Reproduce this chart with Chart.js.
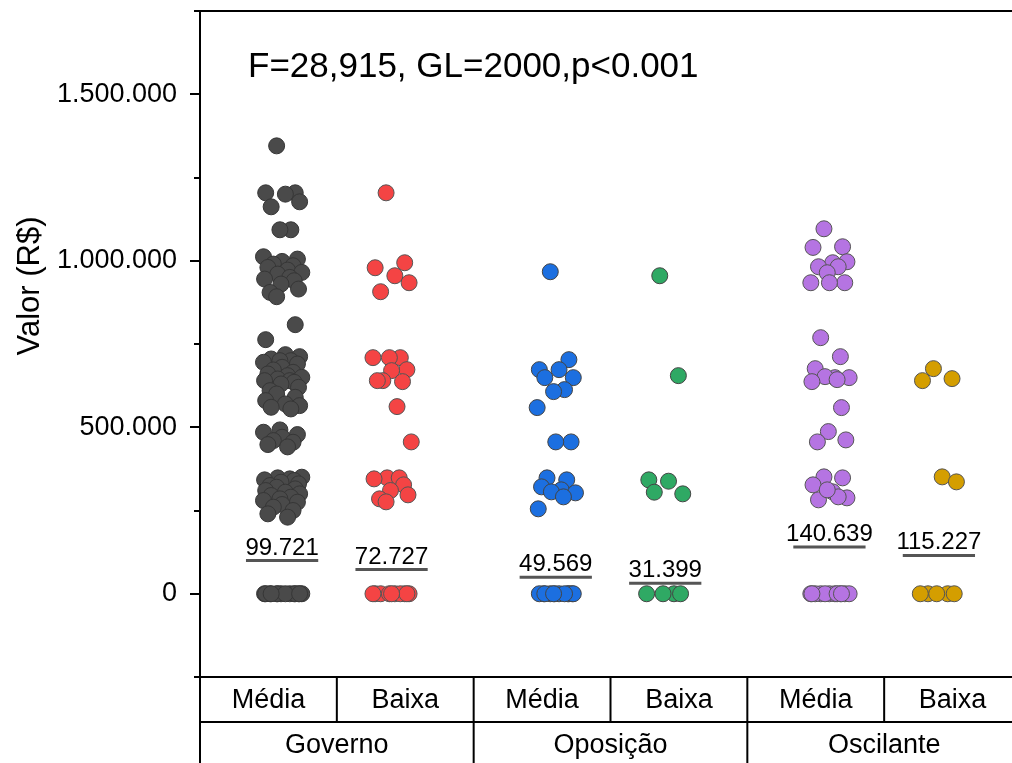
<!DOCTYPE html>
<html>
<head>
<meta charset="utf-8">
<script src="https://cdn.jsdelivr.net/npm/chart.js@4.4.1/dist/chart.umd.min.js"></script>
<style>
  html, body { margin: 0; padding: 0; background: #fff; overflow: hidden; }
  #caixa { width: 1030px; height: 763px; position: relative; }
</style>
</head>
<body>
<div id="caixa"><canvas id="grafico"></canvas></div>
<script>
// categorias do grafico
const grupos = ['Governo', 'Oposição', 'Oscilante'];
const niveis = ['Média', 'Baixa', 'Média', 'Baixa', 'Média', 'Baixa'];
const posicoes = [1, 2, 3.5, 4.5, 6, 7];
const medias = [99721, 72727, 49569, 31399, 140639, 115227];
const textoTeste = 'F=28,915, GL=2000,p<0.001';
const tituloY = 'Valor (R$)';

// valores (R$)
const govMedia = [1345000, 1204000, 1204000, 1200000, 1177000, 1162000, 1093000, 1093000,
  1012000, 1005000, 998000, 990000, 985000, 980000, 972000, 965000, 960000, 950000, 945000,
  940000, 930000, 915000, 905000, 892000, 808000, 763000,
  718000, 712000, 705000, 700000, 700000, 695000, 690000, 680000, 672000, 665000, 660000,
  655000, 650000, 645000, 640000, 640000, 635000, 630000, 620000, 610000, 600000, 590000,
  580000, 570000, 565000, 560000, 555000,
  492000, 485000, 478000, 470000, 460000, 455000, 448000, 441000,
  350000, 348000, 345000, 342000, 340000, 335000, 330000, 325000, 320000, 315000, 310000,
  305000, 300000, 295000, 290000, 285000, 280000, 275000, 268000, 260000, 250000, 240000, 230000,
  0, 0, 0, 0, 0, 0, 0, 0, 0, 0, 0, 0, 0, 0];
const govBaixa = [1204000, 994000, 979000, 955000, 934000, 907000,
  709000, 709000, 709000, 673000, 670000, 640000, 637000, 640000,
  562000, 456000,
  348000, 348000, 345000, 327000, 310000, 297000, 285000, 276000,
  0, 0, 0, 0, 0, 0, 0, 0, 0, 0];
const opoMedia = [967000, 703000, 673000, 673000, 649000, 649000, 613000, 607000, 559000,
  456000, 456000,
  348000, 342000, 321000, 312000, 303000, 306000, 291000, 255000,
  0, 0, 0, 0, 0, 0, 0, 0, 0, 0, 0, 0];
const opoBaixa = [955000, 655000, 342000, 338000, 300000, 305000, 0, 0, 0, 0];
const oscMedia = [1096000, 1042000, 1040000, 994000, 997000, 982000, 982000, 964000,
  934000, 934000, 934000, 769000, 712000, 676000,
  649000, 649000, 652000, 643000, 637000, 559000, 487000, 462000, 456000,
  351000, 348000, 327000, 306000, 288000, 282000, 291000, 312000,
  0, 0, 0, 0, 0, 0, 0, 0, 0, 0, 0, 0];
const oscBaixa = [676000, 646000, 640000, 351000, 336000, 0, 0, 0, 0, 0];

// deslocamento horizontal dos pontos (unidades de categoria)
const jitter = [-0.05, 0.12, -0.15, 0.03, 0.16, -0.10, 0.08, -0.02, -0.17, 0.14, 0.00, -0.08,
  0.10, -0.13, 0.05, 0.18, -0.04, 0.07, -0.16, 0.11, -0.01, 0.15, -0.11];

const series = [govMedia, govBaixa, opoMedia, opoBaixa, oscMedia, oscBaixa];
const cores = ['#4a4a4a', '#f44444', '#1c6fe0', '#2fa964', '#b574e2', '#d49e00'];
const bordas = ['#363636', '#555555', '#444444', '#444444', '#555555', '#555555'];

const fonte = 'Liberation Sans, Arial, sans-serif';

function formatar(v) {
  return String(v).replace(/\B(?=(\d{3})+(?!\d))/g, '.');
}

const datasets = [];
series.forEach((vals, g) => {
  datasets.push({
    data: vals.map((v, i) => ({ x: posicoes[g] + jitter[i % jitter.length], y: v })),
    backgroundColor: cores[g],
    borderColor: bordas[g],
    borderWidth: 1,
    pointRadius: 8,
    showLine: false
  });
});
// linhas das medias
medias.forEach((m, g) => {
  datasets.push({
    data: [{ x: posicoes[g] - 0.33, y: m }, { x: posicoes[g] + 0.33, y: m }],
    showLine: true,
    borderColor: '#555555',
    borderWidth: 3,
    pointRadius: 0
  });
});

const moldura = {
  id: 'moldura',
  afterDatasetsDraw(chart) {
    const { ctx, scales: { x, y } } = chart;
    ctx.save();
    ctx.fillStyle = '#000';
    ctx.font = '24px ' + fonte;
    ctx.textAlign = 'center';
    ctx.textBaseline = 'alphabetic';
    medias.forEach((m, g) => {
      ctx.fillText(formatar(m), x.getPixelForValue(posicoes[g]), y.getPixelForValue(m) - 6);
    });
    ctx.restore();
  },
  afterDraw(chart) {
    const { ctx, chartArea: a, scales: { x, y } } = chart;
    ctx.save();
    ctx.strokeStyle = '#000';
    ctx.lineWidth = 2;
    ctx.beginPath();
    ctx.moveTo(a.left, a.top); ctx.lineTo(a.right, a.top);
    ctx.moveTo(a.left, a.bottom); ctx.lineTo(a.right, a.bottom);
    ctx.moveTo(a.left, a.top - 1); ctx.lineTo(a.left, chart.height);
    ctx.moveTo(a.right, a.top); ctx.lineTo(a.right, chart.height);
    // marcas do eixo y
    for (let v = y.min; v <= y.max; v += 250000) {
      const py = Math.round(y.getPixelForValue(v));
      const len = v % 500000 === 0 ? 10 : 6;
      ctx.moveTo(a.left - len, py); ctx.lineTo(a.left, py);
    }
    // tabela das categorias
    const linha = a.bottom + 45;
    ctx.moveTo(a.left, linha); ctx.lineTo(a.right, linha);
    for (let k = 1; k < 6; k++) {
      const px = x.getPixelForValue(x.min + k * 1.25);
      ctx.moveTo(px, a.bottom); ctx.lineTo(px, k % 2 === 0 ? chart.height : linha);
    }
    ctx.stroke();

    ctx.fillStyle = '#000';
    ctx.textAlign = 'center';
    ctx.textBaseline = 'middle';
    ctx.font = '27px ' + fonte;
    niveis.forEach((t, k) => {
      ctx.fillText(t, x.getPixelForValue(x.min + (k + 0.5) * 1.25), a.bottom + 24);
    });
    grupos.forEach((t, k) => {
      ctx.fillText(t, x.getPixelForValue(x.min + (k + 0.5) * 2.5), linha + 24);
    });

    // texto do teste
    ctx.textAlign = 'left';
    ctx.textBaseline = 'alphabetic';
    ctx.font = '35px ' + fonte;
    ctx.fillText(textoTeste, 248, 77);

    // titulo do eixo y
    ctx.translate(30, 286);
    ctx.rotate(-Math.PI / 2);
    ctx.textAlign = 'center';
    ctx.textBaseline = 'middle';
    ctx.font = '31px ' + fonte;
    ctx.fillText(tituloY, 0, 0);
    ctx.restore();
  }
};

const grafico = new Chart(document.getElementById('grafico'), {
  type: 'scatter',
  data: { datasets: datasets },
  options: {
    responsive: true,
    maintainAspectRatio: false,
    animation: false,
    layout: { padding: { top: 11, right: 4, left: 0, bottom: 0 } },
    plugins: { legend: { display: false }, tooltip: { enabled: false } },
    scales: {
      x: {
        type: 'linear',
        min: 0.25,
        max: 7.75,
        ticks: { display: false },
        grid: { display: false, drawTicks: false },
        border: { display: false },
        afterFit: (s) => { s.height = 86; s.paddingLeft = 0; s.paddingRight = 0; }
      },
      y: {
        min: -250000,
        max: 1750000,
        ticks: {
          stepSize: 250000,
          padding: 23,
          color: '#000',
          font: { family: fonte, size: 27 },
          callback: (v) => (v % 500000 === 0 ? formatar(v) : '')
        },
        grid: { display: false, drawTicks: false },
        border: { display: false },
        afterFit: (s) => { s.width = 200; s.paddingTop = 0; s.paddingBottom = 0; }
      }
    }
  },
  plugins: [moldura]
});
</script>
</body>
</html>
